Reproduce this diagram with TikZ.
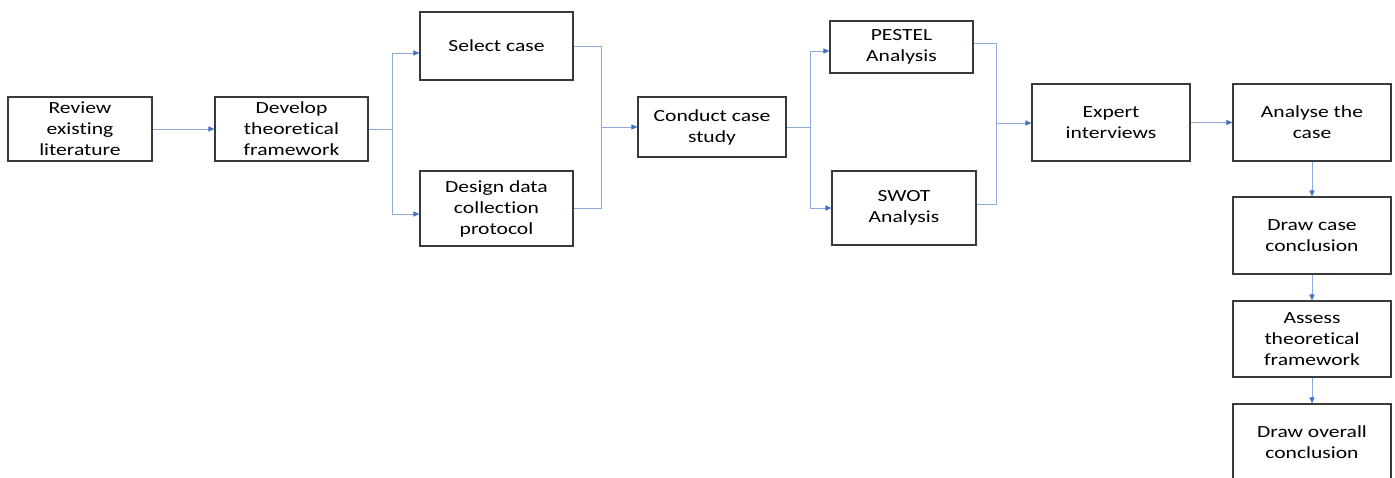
\documentclass[tikz,border=0pt]{standalone}
\usepackage{fontspec}
\setmainfont{Carlito}[FakeStretch=1.27,Ligatures={NoCommon}]
\usetikzlibrary{arrows.meta}
\definecolor{linkblue}{HTML}{8EAADB}
\definecolor{tipblue}{HTML}{4472C4}
\definecolor{boxline}{HTML}{3A3A3A}
\tikzset{
  box/.style={draw=boxline, line width=1.1pt, inner sep=1pt, align=center,
    font=\fontsize{17pt}{21pt}\selectfont, text=black},
  link/.style={draw=linkblue, line width=1pt},
  arr/.style={link, -{Triangle[length=6pt,width=5pt,color=tipblue]}},
}
\begin{document}
\begin{tikzpicture}[x=1pt,y=-1pt]
\useasboundingbox (0,0) rectangle (1395,477);
\clip (0,0) rectangle (1395,477);
\node[box, minimum width=144pt, minimum height=64pt] (rev) at (80,129) {Review\\existing\\literature};
\node[box, minimum width=153pt, minimum height=64pt] (dev) at (291.5,129) {Develop\\theoretical\\framework};
\node[box, minimum width=153pt, minimum height=68pt] (sel) at (496.5,46) {Select case};
\node[box, minimum width=153pt, minimum height=75pt] (des) at (496.5,208.5) {Design data\\collection\\protocol};
\node[box, minimum width=148pt, minimum height=60pt] (con) at (712,127) {Conduct case\\study};
\node[box, minimum width=143pt, minimum height=52pt] (pes) at (901.5,47) {PESTEL\\Analysis};
\node[box, minimum width=144pt, minimum height=74pt] (swo) at (904,208) {SWOT\\Analysis};
\node[box, minimum width=158pt, minimum height=77pt] (exp) at (1111,122.5) {Expert\\interviews};
\node[box, minimum width=158pt, minimum height=77pt] (ana) at (1312,122.5) {Analyse the\\case};
\node[box, minimum width=158pt, minimum height=77pt] (dcc) at (1312,235.5) {Draw case\\conclusion};
\node[box, minimum width=158pt, minimum height=76pt] (ass) at (1312,339) {Assess\\theoretical\\framework};
\node[box, minimum width=158pt, minimum height=77pt] (dov) at (1312,442.5) {Draw overall\\conclusion};

\coordinate (s1) at (392,129);
\coordinate (j1) at (601,127);
\coordinate (s2) at (810,127);
\coordinate (j2) at (996,123);

\draw[arr] (rev) -- (dev);
\draw[link] (dev.east) -- (s1);
\draw[arr] (s1) |- ([yshift=-7pt]sel.west);
\draw[arr] (s1) |- ([yshift=-5.5pt]des.west);
\draw[link] (sel.east) -| (j1);
\draw[link] (des.east) -| (j1);
\draw[arr] (j1) -- (con.west);
\draw[link] (con.east) -- (s2);
\draw[arr] (s2) |- ([yshift=-4pt]pes.west);
\draw[arr] (s2) |- (swo.west);
\draw[link] ([yshift=4pt]pes.east) -| (j2);
\draw[link] ([yshift=4pt]swo.east) -| (j2);
\draw[arr] (j2) -- (j2 -| exp.west);
\draw[arr] (exp) -- (ana);
\draw[arr] (ana) -- (dcc);
\draw[arr] (dcc) -- (ass);
\draw[arr] (ass) -- (dov);
\end{tikzpicture}
\end{document}
